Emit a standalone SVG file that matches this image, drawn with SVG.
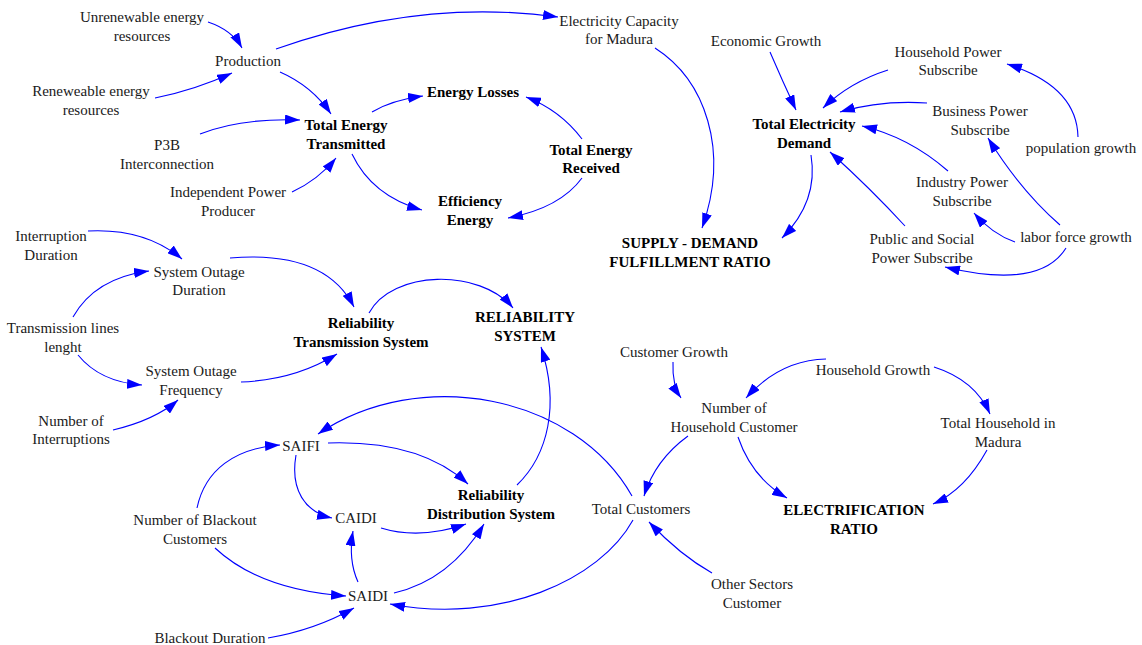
<svg xmlns="http://www.w3.org/2000/svg" width="1142" height="645" viewBox="0 0 1142 645">
<style>
text{font-family:"Liberation Serif","Times New Roman",serif;font-size:15px;fill:#1a1a1a;text-anchor:middle}
.b{font-weight:bold;fill:#000}
.c path{fill:none;stroke:#0000ff;stroke-width:1.1;marker-end:url(#ah)}
</style>
<defs>
<marker id="ah" markerUnits="userSpaceOnUse" markerWidth="15" markerHeight="10" refX="15" refY="5" orient="auto">
<path d="M0,0 L15,5 L0,10 z" fill="#0000ff"/>
</marker>
</defs>
<rect width="1142" height="645" fill="#fff"/>
<g class="c" id="connectors">
<path d="M208,22 Q232,30 242,48"/>
<path d="M155,98 Q195,90 232,73"/>
<path d="M276,49 Q420,-2 558,17"/>
<path d="M280,72 Q312,86 331,114"/>
<path d="M200,134 Q240,118 300,120"/>
<path d="M292,192 Q318,180 336,158"/>
<path d="M372,112 Q392,100 423,96"/>
<path d="M582,139 Q560,110 526,97"/>
<path d="M352,154 Q372,196 422,210"/>
<path d="M582,178 Q560,208 508,218"/>
<path d="M655,48 C705,80 730,150 702,228"/>
<path d="M770,52 Q782,80 796,110"/>
<path d="M888,70 Q850,82 823,108"/>
<path d="M927,103 Q880,100 840,112"/>
<path d="M948,171 Q909,137 862,126"/>
<path d="M905,226 Q870,188 830,152"/>
<path d="M811,155 C816,185 808,212 782,238"/>
<path d="M1078,137 Q1077,86 1007,64"/>
<path d="M1060,225 Q1020,190 988,138"/>
<path d="M1015,242 Q992,234 974,213"/>
<path d="M1066,248 Q1040,290 945,267"/>
<path d="M88,231 Q145,228 182,259"/>
<path d="M73,317 Q95,278 149,271"/>
<path d="M78,355 Q100,382 142,385"/>
<path d="M113,430 Q155,420 178,400"/>
<path d="M230,258 Q325,250 354,307"/>
<path d="M241,382 Q295,380 337,354"/>
<path d="M369,313 C392,270 480,268 513,308"/>
<path d="M517,485 C548,455 560,405 541,347"/>
<path d="M632,496 C575,395 420,365 318,434"/>
<path d="M633,520 C600,580 500,625 390,604"/>
<path d="M328,443 Q420,440 468,484"/>
<path d="M296,455 C290,490 305,512 332,518"/>
<path d="M381,528 Q420,540 466,524"/>
<path d="M358,582 Q348,560 353,531"/>
<path d="M394,593 Q450,580 484,524"/>
<path d="M197,508 C205,470 235,448 280,445"/>
<path d="M215,548 Q260,590 346,596"/>
<path d="M268,638 Q315,630 354,608"/>
<path d="M673,362 Q672,385 681,398"/>
<path d="M826,359 Q780,360 746,398"/>
<path d="M934,367 Q975,380 990,414"/>
<path d="M987,450 Q965,490 933,504"/>
<path d="M688,436 Q655,460 644,496"/>
<path d="M738,437 Q752,478 787,498"/>
<path d="M712,573 Q680,555 649,522"/>
</g>
<g id="n-unrenewable"><text x="142" y="22">Unrenewable energy</text><text x="142" y="41">resources</text></g>
<g id="n-production"><text x="248" y="66">Production</text></g>
<g id="n-renewable"><text x="91" y="96">Reneweable energy</text><text x="91" y="115">resources</text></g>
<g id="n-p3b"><text x="167" y="150">P3B</text><text x="167" y="169">Interconnection</text></g>
<g id="n-ipp"><text x="228" y="197">Independent Power</text><text x="228" y="216">Producer</text></g>
<g id="n-tet"><text class="b" x="346" y="130">Total Energy</text><text class="b" x="346" y="149">Transmitted</text></g>
<g id="n-losses"><text class="b" x="473" y="97">Energy Losses</text></g>
<g id="n-ter"><text class="b" x="591" y="155">Total Energy</text><text class="b" x="591" y="173">Received</text></g>
<g id="n-eff"><text class="b" x="470" y="206">Efficiency</text><text class="b" x="470" y="225">Energy</text></g>
<g id="n-capacity"><text x="619" y="26">Electricity Capacity</text><text x="619" y="44">for Madura</text></g>
<g id="n-econ"><text x="766" y="46">Economic Growth</text></g>
<g id="n-hps"><text x="948" y="57">Household Power</text><text x="948" y="75">Subscribe</text></g>
<g id="n-ted"><text class="b" x="804" y="129">Total Electricity</text><text class="b" x="804" y="148">Demand</text></g>
<g id="n-bps"><text x="980" y="116">Business Power</text><text x="980" y="135">Subscribe</text></g>
<g id="n-pop"><text x="1081" y="153">population growth</text></g>
<g id="n-ips"><text x="962" y="187">Industry Power</text><text x="962" y="206">Subscribe</text></g>
<g id="n-pss"><text x="922" y="244">Public and Social</text><text x="922" y="263">Power Subscribe</text></g>
<g id="n-labor"><text x="1076" y="242">labor force growth</text></g>
<g id="n-supply"><text class="b" x="690" y="248">SUPPLY - DEMAND</text><text class="b" x="690" y="267">FULFILLMENT RATIO</text></g>
<g id="n-intdur"><text x="51" y="241">Interruption</text><text x="51" y="260">Duration</text></g>
<g id="n-sod"><text x="199" y="277">System Outage</text><text x="199" y="295">Duration</text></g>
<g id="n-tll"><text x="63" y="333">Transmission lines</text><text x="63" y="352">lenght</text></g>
<g id="n-sof"><text x="191" y="376">System Outage</text><text x="191" y="395">Frequency</text></g>
<g id="n-noi"><text x="71" y="426">Number of</text><text x="71" y="444">Interruptions</text></g>
<g id="n-rts"><text class="b" x="361" y="328">Reliability</text><text class="b" x="361" y="347">Transmission System</text></g>
<g id="n-rel"><text class="b" x="525" y="322">RELIABILITY</text><text class="b" x="525" y="341">SYSTEM</text></g>
<g id="n-custgrowth"><text x="674" y="357">Customer Growth</text></g>
<g id="n-hhgrowth"><text x="873" y="375">Household Growth</text></g>
<g id="n-nhc"><text x="734" y="413">Number of</text><text x="734" y="432">Household Customer</text></g>
<g id="n-thm"><text x="998" y="428">Total Household in</text><text x="998" y="447">Madura</text></g>
<g id="n-totcust"><text x="641" y="514">Total Customers</text></g>
<g id="n-elec"><text class="b" x="854" y="515">ELECTRIFICATION</text><text class="b" x="854" y="534">RATIO</text></g>
<g id="n-other"><text x="752" y="589">Other Sectors</text><text x="752" y="608">Customer</text></g>
<g id="n-saifi"><text x="301" y="451">SAIFI</text></g>
<g id="n-caidi"><text x="356" y="523">CAIDI</text></g>
<g id="n-rds"><text class="b" x="491" y="500">Reliability</text><text class="b" x="491" y="519">Distribution System</text></g>
<g id="n-nbc"><text x="195" y="525">Number of Blackout</text><text x="195" y="544">Customers</text></g>
<g id="n-saidi"><text x="368" y="601">SAIDI</text></g>
<g id="n-bd"><text x="210" y="643">Blackout Duration</text></g>
</svg>
